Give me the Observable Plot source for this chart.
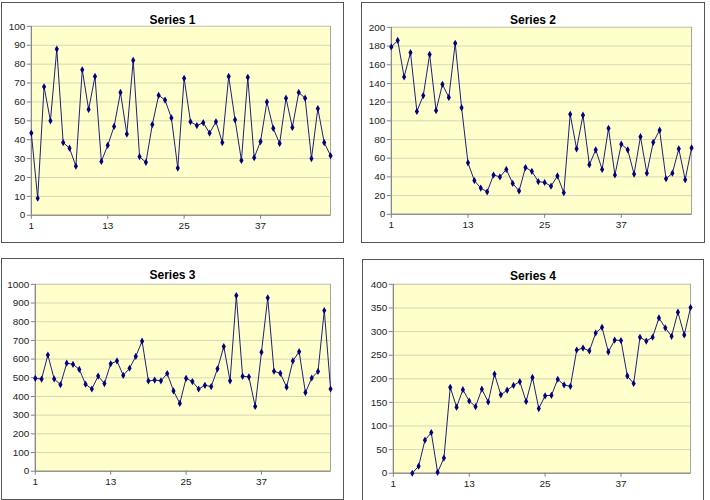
<!DOCTYPE html>
<html>
<head>
<meta charset="utf-8">
<script src="https://cdn.jsdelivr.net/npm/d3@7"></script>
<script src="https://cdn.jsdelivr.net/npm/@observablehq/plot@0.6"></script>
<style>
  html, body { margin: 0; padding: 0; background: #fff; width: 710px; height: 500px; overflow: hidden; }
  #root { position: relative; width: 710px; height: 500px; }
  .panel { position: absolute; box-sizing: border-box; border: 1px solid #555; background: #fff; }
  .panel svg { position: absolute; left: 0; top: 0; }
  .title { position: absolute; left: 0; right: 0; text-align: center; font-family: "Liberation Sans", Arial, sans-serif; font-weight: bold; font-size: 12px; color: #000; }
</style>
</head>
<body>
<div id="root"></div>
<script>
// ---- data ----
const titles = ["Series 1", "Series 2", "Series 3", "Series 4"];
const xTicks = [1, 13, 25, 37];

const series1 = [43.5, 9, 68, 50, 88, 38.5, 35.5, 26, 77, 56, 73.5, 28.5, 37, 47, 65, 43, 82, 31, 28, 48,
  63.5, 61, 51.5, 25, 72.5, 49.5, 47.5, 49, 43.5, 49.5, 38.5, 73.5, 50.5, 29, 73, 30.5, 39, 60, 46, 38,
  62, 46.5, 65, 62, 30, 56.5, 38.5, 31.5];
const series2 = [179, 186, 147, 173, 110, 127, 171, 111, 139, 125, 183, 114, 55, 36, 28, 24, 42, 40, 48, 33,
  25, 50, 46, 35, 34, 30, 41, 23, 107, 70, 106, 53, 69, 48, 92, 42, 75, 69, 43, 83,
  44, 77, 90, 38, 44, 70, 37, 71];
const series3 = [497, 493, 622, 494, 463, 578, 572, 545, 466, 440, 509, 469, 575, 590, 513, 551, 615, 696, 483, 488,
  484, 523, 430, 363, 497, 480, 440, 460, 453, 548, 667, 484, 940, 508, 505, 347, 637, 928, 535, 524,
  450, 590, 640, 421, 499, 534, 860, 440];
const series4 = [null, null, null, 0, 15, 70, 86, 2, 32, 182, 140, 177, 153, 141, 178, 151, 210, 166, 176, 186,
  194, 152, 203, 137, 164, 165, 199, 187, 184, 261, 265, 259, 297, 309, 257, 282, 281, 206, 190, 288,
  280, 288, 329, 308, 290, 341, 293, 351];

const yTicks1 = [0, 10, 20, 30, 40, 50, 60, 70, 80, 90, 100];
const yTicks2 = [0, 20, 40, 60, 80, 100, 120, 140, 160, 180, 200];
const yTicks3 = [0, 100, 200, 300, 400, 500, 600, 700, 800, 900, 1000];
const yTicks4 = [0, 50, 100, 150, 200, 250, 300, 350, 400];

// ---- layout ----
const panels = [
  {values: series1, yTicks: yTicks1, box: [1, 2, 343, 241], plot: [30, 25, 331, 215], titleY: 10},
  {values: series2, yTicks: yTicks2, box: [361, 2, 344, 241], plot: [390, 26, 692, 214], titleY: 10},
  {values: series3, yTicks: yTicks3, box: [1, 258, 343, 242], plot: [34, 283, 331, 471], titleY: 9},
  {values: series4, yTicks: yTicks4, box: [362, 259, 342, 246], plot: [392, 283, 691, 473], titleY: 9}
];

const root = document.getElementById("root");
const navy = "#000080";

panels.forEach((p, i) => {
  const [bx, by, bw, bh] = p.box;
  const [px0, py0, px1, py1] = p.plot;
  const div = document.createElement("div");
  div.className = "panel";
  div.style.left = bx + "px";
  div.style.top = by + "px";
  div.style.width = bw + "px";
  div.style.height = bh + "px";

  const data = p.values.map((v, k) => ({x: k + 1, y: v}));
  const yMax = p.yTicks[p.yTicks.length - 1];

  const chart = Plot.plot({
    width: bw,
    height: bh,
    marginLeft: px0 - bx,
    marginTop: py0 - by,
    marginRight: bx + bw - px1,
    marginBottom: by + bh - py1,
    style: {background: "transparent", fontFamily: "'Liberation Sans', Arial, sans-serif", fontSize: "10px", color: "#222", overflow: "visible"},
    x: {domain: [1, 48]},
    y: {domain: [0, yMax]},
    marks: [
      Plot.frame({fill: "#FFFFCC", stroke: "#a0a0a0"}),
      Plot.gridY(p.yTicks, {stroke: "#d6d6b4", strokeOpacity: 1}),
      Plot.ruleY([0], {stroke: "#808080"}),
      Plot.ruleX([1], {stroke: "#808080"}),
      Plot.axisX(xTicks, {tickSize: 4, tickPadding: 3, stroke: "#808080", fill: "#222", label: null, tickFormat: d => String(d)}),
      Plot.axisY(p.yTicks, {tickSize: 4, tickPadding: 2, stroke: "#808080", fill: "#222", label: null, tickFormat: d => String(d)}),
      Plot.line(data, {x: "x", y: "y", stroke: "#1c1c78", strokeWidth: 1}),
      Plot.dot(data.filter(d => d.y != null), {x: "x", y: "y", symbol: "diamond", r: 2.2, fill: navy, stroke: "none"})
    ]
  });
  div.appendChild(chart);

  const t = document.createElement("div");
  t.className = "title";
  t.style.top = p.titleY + "px";
  t.textContent = titles[i];
  div.appendChild(t);

  root.appendChild(div);
});
</script>
</body>
</html>
